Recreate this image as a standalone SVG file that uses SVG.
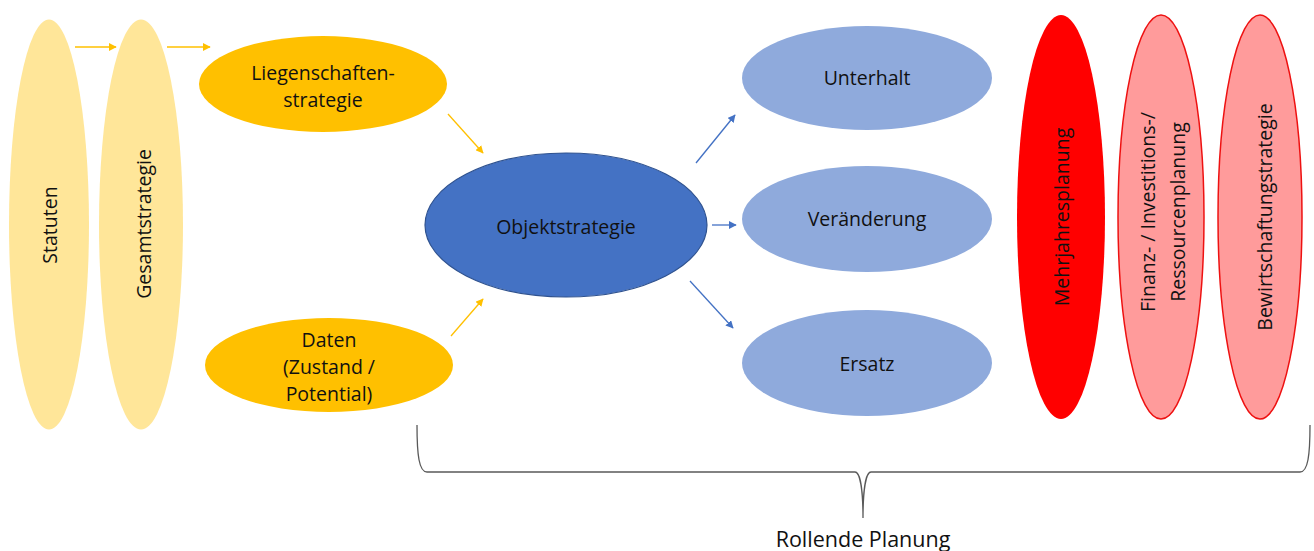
<svg xmlns="http://www.w3.org/2000/svg" width="1314" height="551" viewBox="0 0 1314 551">
<defs>
<style>
text{font-family:"Open Sans","Liberation Sans",sans-serif;font-size:19.5px;fill:#111;text-anchor:middle;dominant-baseline:central}
.pale{fill:#ffe699}
.gold{fill:#ffc000}
.dark{fill:#4472c4;stroke:#2f528f;stroke-width:1.2}
.light{fill:#8faadc}
.red{fill:#ff0000}
.pink{fill:#ff9b9b;stroke:#ee1111;stroke-width:1.5}
.ya{stroke:#ffc000;stroke-width:1.3;fill:none;marker-end:url(#ah-y)}
.ba{stroke:#4472c4;stroke-width:1.3;fill:none;marker-end:url(#ah-b)}
</style>
<marker id="ah-y" viewBox="0 0 10 10" refX="9" refY="5" markerWidth="6" markerHeight="6" orient="auto" markerUnits="strokeWidth"><path d="M0,0 L10,5 L0,10 z" fill="#ffc000"/></marker>
<marker id="ah-b" viewBox="0 0 10 10" refX="9" refY="5" markerWidth="6" markerHeight="6" orient="auto" markerUnits="strokeWidth"><path d="M0,0 L10,5 L0,10 z" fill="#4472c4"/></marker>
</defs>
<rect width="1314" height="551" fill="#fff"/>
<g id="statuten"><ellipse class="pale" cx="49" cy="224.5" rx="40" ry="205"/><text transform="translate(49,225) rotate(-90)">Statuten</text></g>
<g id="gesamtstrategie"><ellipse class="pale" cx="141" cy="224.5" rx="42" ry="205"/><text transform="translate(143,224) rotate(-90)">Gesamtstrategie</text></g>
<g id="liegenschaften"><ellipse class="gold" cx="323" cy="84" rx="124" ry="48"/><text x="323" y="72">Liegenschaften-</text><text x="323" y="99">strategie</text></g>
<g id="daten"><ellipse class="gold" cx="329" cy="365" rx="124" ry="47"/><text x="329" y="339">Daten</text><text x="329" y="366">(Zustand /</text><text x="329" y="393">Potential)</text></g>
<g id="objektstrategie"><ellipse class="dark" cx="566" cy="225" rx="141" ry="72"/><text x="566" y="226">Objektstrategie</text></g>
<g id="unterhalt"><ellipse class="light" cx="867" cy="78" rx="125" ry="52"/><text x="867" y="77">Unterhalt</text></g>
<g id="veraenderung"><ellipse class="light" cx="867" cy="219" rx="125" ry="53"/><text x="867" y="218">Veränderung</text></g>
<g id="ersatz"><ellipse class="light" cx="867" cy="363" rx="125" ry="53"/><text x="867" y="363">Ersatz</text></g>
<g id="mehrjahresplanung"><ellipse class="red" cx="1061" cy="217" rx="44" ry="202"/><text transform="translate(1061,217) rotate(-90)">Mehrjahresplanung</text></g>
<g id="finanz"><ellipse class="pink" cx="1161" cy="217" rx="43" ry="202"/><text transform="translate(1147,212) rotate(-90)">Finanz- / Investitions-/</text><text transform="translate(1177,212) rotate(-90)">Ressourcenplanung</text></g>
<g id="bewirtschaftung"><ellipse class="pink" cx="1260" cy="217" rx="42" ry="202"/><text transform="translate(1264,217) rotate(-90)">Bewirtschaftungstrategie</text></g>
<g id="rollende-planung"><path d="M417,425 C417,455 419,472 427,472 L855,472 C860,472 863,490 863,518 C863,490 866,472 871,472 L1300,472 C1308,472 1310,455 1310,425" fill="none" stroke="#595959" stroke-width="1.3"/><text x="863" y="538" style="font-size:21.5px">Rollende Planung</text></g>
<g id="connectors">
<line class="ya" x1="75" y1="47" x2="116" y2="47"/>
<line class="ya" x1="167" y1="47" x2="210" y2="47"/>
<line class="ya" x1="448" y1="114" x2="483" y2="153"/>
<line class="ya" x1="451" y1="336" x2="483" y2="299"/>
<line class="ba" x1="696" y1="163" x2="735" y2="115"/>
<line class="ba" x1="712" y1="225" x2="736" y2="225"/>
<line class="ba" x1="690" y1="281" x2="733" y2="328"/>
</g>
</svg>
